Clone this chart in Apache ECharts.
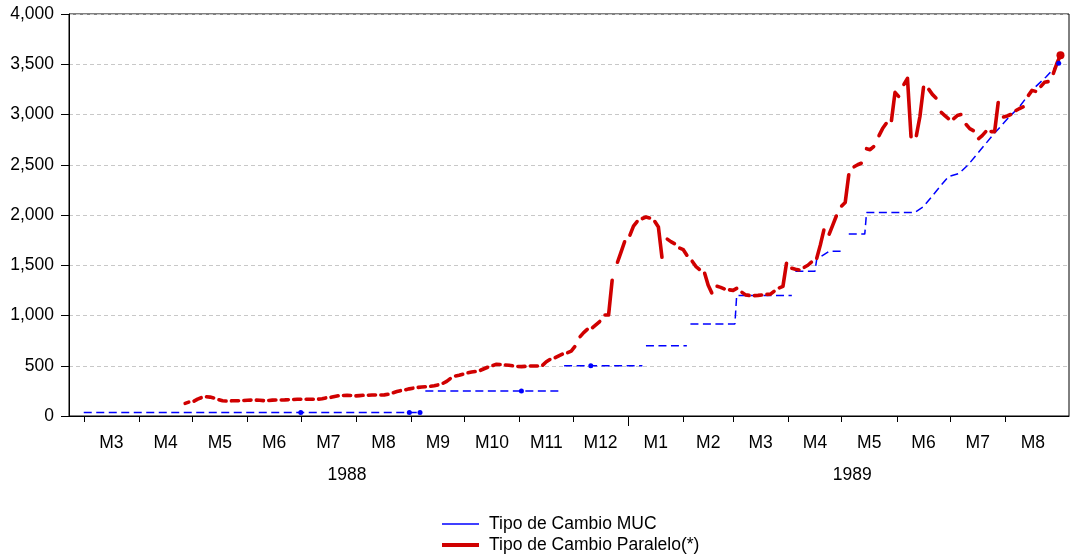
<!DOCTYPE html>
<html>
<head>
<meta charset="utf-8">
<script src="https://cdn.jsdelivr.net/npm/echarts@6/dist/echarts.min.js"></script>
<style>
  html, body { margin: 0; padding: 0; background: #fff; }
  #chart { width: 1070px; height: 556px; }
</style>
</head>
<body>
<div id="chart"></div>
<script>
// Tipo de cambio paralelo: one row per week (Mon, Wed, Fri), weekends are empty
const paraFirstMonday = '1988-04-25';
const paralelo1988 = [
  [null, 126, 138], [148, 168, 182], [192, 188, 180], [162, 152, 149], [151, 152, 152],
  [155, 157, 158], [158, 156, 153], [155, 158, 159], [159, 160, 162], [164, 166, 166],
  [166, 166, 167], [168, 172, 180], [186, 195, 201], [204, 206, 204], [200, 203, 206],
  [207, 209, 209], [209, 210, 216], [232, 243, 252], [262, 270, 277], [285, 288, 291],
  [296, 301, 309], [326, 345, 372], [398, 405, 415], [430, 437, 442], [455, 470, 485],
  [503, 514, 512], [508, 505, 500], [493, 491, 494], [497, 497, 498], [506, 540, 562],
  [580, 598, 615], [630, 645, 690], [790, 830, 862], [880, 910, 940], [1005, 1005, 1350],
  [1530, 1630, 1734]
];
const paralelo1989 = [
  [1800, 1890, 1935], [1965, 1980, 1970], [1935, 1880, 1580], [1760, 1735, 1715],
  [1670, 1655, 1600], [1540, 1490, 1460], [1420, 1300, 1225], [1290, 1280, 1265],
  [1255, 1250, 1270], [1230, 1205, 1200], [1198, 1200, 1204], [1210, 1212, 1240],
  [1275, 1290, 1520], [1470, 1460, 1453], [1480, 1500, 1530], [1570, 1700, 1850],
  [1810, 1900, 1990], [2090, 2125, 2400], [2480, 2500, 2515], [2660, 2650, 2680],
  [2790, 2860, 2910], [2940, 3220, 3180], [3300, 3360, 2780], [2790, 2980, 3270],
  [3250, 3200, 3165], [3020, 2990, 2960], [2960, 2990, 3000], [2900, 2860, 2840],
  [2760, 2790, 2830], [2830, 2830, 3120], [2975, 2985, 3000], [3040, 3060, 3075],
  [3190, 3240, 3230], [3280, 3320, 3327], [3410, 3509, 3589]
];

// Tipo de cambio MUC: breakpoints of the official rate (null = no line)
const mucDates = [
  '1988-03-01', '1988-07-01', '1988-08-31', '1988-09-06', '1988-09-07',
  '1988-09-09', '1988-11-02', '1988-11-24', '1988-11-25',
  '1988-11-26', '1988-12-11', '1989-01-09', '1989-01-10',
  '1989-01-11', '1989-02-03', '1989-02-04',
  '1989-02-05', '1989-03-02', '1989-03-03', '1989-04-03', '1989-04-04',
  '1989-04-05', '1989-04-16', '1989-04-17', '1989-04-24', '1989-05-01', '1989-05-03',
  '1989-05-05', '1989-05-14', '1989-05-15', '1989-06-11', '1989-06-16', '1989-06-26',
  '1989-06-30', '1989-07-06', '1989-07-11', '1989-07-18', '1989-07-25', '1989-08-03',
  '1989-08-09', '1989-08-16', '1989-08-24', '1989-08-31'
];
const mucValues = [
  35, 35, 35, 35, null,
  250, 250, 250, null,
  500, 500, 500, null,
  700, 700, null,
  915, 915, 1200, 1200, null,
  1440, 1440, 1560, 1640, 1640, null,
  1810, 1810, 2025, 2025, 2083, 2298,
  2381, 2414, 2497, 2646, 2796, 2972,
  3078, 3243, 3376, 3509
];
const mucDots = ['1988-07-01', '1988-08-31', '1988-09-06', '1988-11-02', '1988-12-11', '1989-08-31'];

// axis: months M3 1988 .. M8 1989
const firstMonth = [1988, 3];
const monthCount = 18;
const yearLabels = [['1988-07-27', '1988'], ['1989-05-07', '1989']];
const yearBreak = '1989-01-01';

const DAY = 86400000;
function d(s) {
  const p = s.split('-').map(Number);
  return new Date(p[0], p[1] - 1, p[2]).getTime();
}

const monthStarts = [];
const monthMids = [];
for (let i = 0; i < monthCount; i++) {
  const a = new Date(firstMonth[0], firstMonth[1] - 1 + i, 1).getTime();
  const b = new Date(firstMonth[0], firstMonth[1] + i, 1).getTime();
  monthStarts.push(a);
  monthMids.push((a + b) / 2);
}
const yearPos = yearLabels.map((y) => d(y[0]));

// build weekly strokes
const paraData = [];
const monday0 = d(paraFirstMonday);
paralelo1988.concat(paralelo1989).forEach((wk, i) => {
  [0, 2, 4].forEach((off, j) => {
    paraData.push([monday0 + (7 * i + off) * DAY, wk[j]]);
  });
  paraData.push([monday0 + (7 * i + 5) * DAY, null]);
});
// last observation shown as a dot
let lastIdx = paraData.length - 1;
while (paraData[lastIdx][1] == null) lastIdx--;
paraData[lastIdx] = { value: paraData[lastIdx], symbol: 'circle', symbolSize: 8 };

const mucData = mucDates.map((s, i) => {
  const pt = [d(s), mucValues[i]];
  if (mucDots.indexOf(s) >= 0) return { value: pt, symbol: 'circle', symbolSize: 5 };
  return pt;
});

const xMin = new Date(1988, 1, 21, 17).getTime();
const xMax = new Date(1989, 8, 5, 19).getTime();
const font = 'Liberation Sans';

const chart = echarts.init(document.getElementById('chart'));
chart.setOption({
  animation: false,
  backgroundColor: '#fff',
  grid: {
    left: 69, right: 1, top: 14, bottom: 140,
    show: true, borderColor: '#000', borderWidth: 1
  },
  legend: {
    orient: 'vertical',
    left: 440,
    top: 515,
    padding: 0,
    itemWidth: 37,
    itemHeight: 14,
    itemGap: 3,
    selectedMode: false,
    itemStyle: { opacity: 0 },
    lineStyle: { type: 'solid', cap: 'butt' },
    textStyle: { fontFamily: font, fontSize: 17.5, lineHeight: 18, color: '#000', padding: [0, 0, 0, 5] },
    data: [
      { name: 'Tipo de Cambio MUC', lineStyle: { width: 1.5 } },
      { name: 'Tipo de Cambio Paralelo(*)', lineStyle: { width: 4 } }
    ]
  },
  xAxis: [
    {
      type: 'value',
      min: xMin,
      max: xMax,
      axisLine: { lineStyle: { color: '#000', width: 1 } },
      axisTick: { show: true, length: 6, customValues: monthStarts, lineStyle: { color: '#000' } },
      axisLabel: {
        customValues: monthMids,
        margin: 18,
        color: '#000',
        fontFamily: font,
        fontSize: 17.5,
        formatter: (v) => 'M' + (new Date(v).getMonth() + 1)
      },
      splitLine: { show: false }
    },
    {
      type: 'value',
      position: 'bottom',
      min: xMin,
      max: xMax,
      axisLine: { show: false },
      axisTick: { show: true, length: 10, customValues: [d(yearBreak)], lineStyle: { color: '#000' } },
      axisLabel: {
        customValues: yearPos,
        margin: 50,
        color: '#000',
        fontFamily: font,
        fontSize: 17.5,
        formatter: (v) => String(new Date(v).getFullYear())
      },
      splitLine: { show: false }
    }
  ],
  yAxis: {
    type: 'value',
    min: 0,
    max: 4000,
    interval: 500,
    axisLine: { show: true, lineStyle: { color: '#000', width: 1 } },
    axisTick: { show: true, length: 8, lineStyle: { color: '#000' } },
    axisLabel: {
      margin: 15,
      color: '#000',
      fontFamily: font,
      fontSize: 17.5,
      formatter: (v) => v.toLocaleString('en-US')
    },
    splitLine: { show: true, lineStyle: { color: '#C8C8C8', width: 1, type: [4, 3] } }
  },
  series: [
    {
      name: 'Tipo de Cambio MUC',
      type: 'line',
      xAxisIndex: 0,
      data: mucData,
      symbol: 'none',
      connectNulls: false,
      itemStyle: { color: '#0000FF' },
      lineStyle: { color: '#0000FF', width: 1.5, type: [8, 4.5] }
    },
    {
      name: 'Tipo de Cambio Paralelo(*)',
      type: 'line',
      xAxisIndex: 0,
      data: paraData,
      symbol: 'none',
      connectNulls: false,
      itemStyle: { color: '#D00000' },
      lineStyle: { color: '#D00000', width: 3.6, cap: 'round', join: 'round' }
    }
  ]
});
</script>
</body>
</html>
